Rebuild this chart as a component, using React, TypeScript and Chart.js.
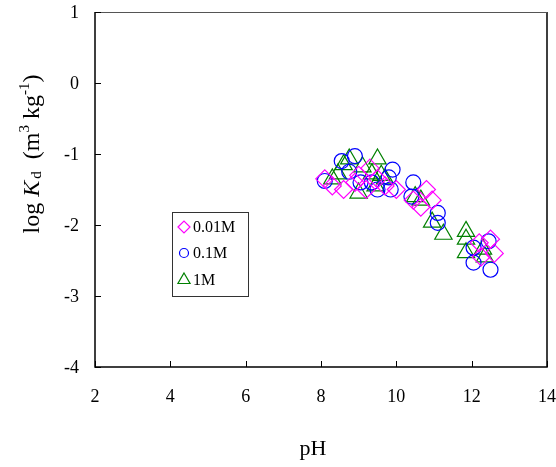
import React, { useEffect, useRef } from "react";
import { Chart, registerables } from "chart.js";

Chart.register(...registerables);

const seriesLabels = ["0.01M", "0.1M", "1M"];
const seriesColors = ["#ff00ff", "#0000ff", "#008000"];
const seriesStyles = ["rectRot", "circle", "triangle"];
const seriesRadii = [9, 7.5, 10];

const ph001 = [8.1, 8.3, 8.6, 8.9, 9.0, 9.2, 9.3, 9.5, 9.7, 10.0, 10.45, 10.65, 10.8, 10.95, 12.2, 12.25, 12.5, 12.6];
const logKd001 = [-1.35, -1.45, -1.5, -1.4, -1.3, -1.5, -1.2, -1.35, -1.45, -1.5, -1.65, -1.75, -1.5, -1.65, -2.25, -2.45, -2.2, -2.4];

const ph01 = [8.1, 8.55, 8.75, 8.9, 9.05, 9.35, 9.5, 9.8, 9.9, 9.85, 10.45, 10.4, 11.1, 11.1, 12.05, 12.05, 12.45, 12.5];
const logKd01 = [-1.38, -1.1, -1.25, -1.03, -1.4, -1.4, -1.5, -1.33, -1.22, -1.5, -1.4, -1.6, -1.83, -1.97, -2.32, -2.53, -2.23, -2.63];

const ph1 = [8.3, 8.45, 8.6, 8.75, 9.0, 9.1, 9.35, 9.45, 9.5, 9.6, 9.7, 10.5, 10.65, 10.95, 11.25, 11.85, 11.85, 11.85, 12.3, 12.35];
const logKd1 = [-1.35, -1.28, -1.15, -1.07, -1.55, -1.18, -1.28, -1.45, -1.07, -1.3, -1.35, -1.6, -1.65, -1.96, -2.13, -2.09, -2.2, -2.39, -2.34, -2.45];

const xTickValues = [2, 4, 6, 8, 10, 12, 14];
const yTickValues = [-4, -3, -2, -1, 0, 1];

const xTitle = "pH";
const yTitleParts = [
  { text: "log ", kind: "normal" },
  { text: "K", kind: "italic" },
  { text: "d", kind: "sub" },
  { text: "  (m", kind: "normal" },
  { text: "3", kind: "sup" },
  { text: " kg", kind: "normal" },
  { text: "-1", kind: "sup" },
  { text: ")", kind: "normal" },
];

const SERIF = "'Liberation Serif', 'DejaVu Serif', serif";

function toPoints(xs: number[], ys: number[]) {
  return xs.map((x, i) => ({ x, y: ys[i] }));
}

const framePlugin = {
  id: "frame",
  beforeDatasetsDraw(chart: any) {
    const { ctx, chartArea } = chart;
    const { left, right, top, bottom } = chartArea;
    const xs = chart.scales.x;
    const ys = chart.scales.y;
    ctx.save();
    ctx.strokeStyle = "#000";
    ctx.lineWidth = 1.5;
    ctx.beginPath();
    ctx.moveTo(left, top);
    ctx.lineTo(left, bottom);
    ctx.lineTo(right, bottom);
    ctx.lineTo(right, top);
    ctx.stroke();
    ctx.strokeStyle = "#555";
    ctx.lineWidth = 1;
    ctx.beginPath();
    ctx.moveTo(left, top + 0.5);
    ctx.lineTo(right, top + 0.5);
    ctx.stroke();
    ctx.strokeStyle = "#000";
    ctx.lineWidth = 1;
    ctx.beginPath();
    yTickValues.forEach((v) => {
      const py = Math.round(ys.getPixelForValue(v)) + 0.5;
      ctx.moveTo(left, py);
      ctx.lineTo(left + 6, py);
    });
    xTickValues.forEach((v) => {
      const px = Math.round(xs.getPixelForValue(v)) + 0.5;
      ctx.moveTo(px, bottom);
      ctx.lineTo(px, bottom - 6);
    });
    ctx.stroke();

    // tick labels
    ctx.fillStyle = "#000";
    ctx.font = `18px ${SERIF}`;
    ctx.textBaseline = "middle";
    ctx.textAlign = "right";
    yTickValues.forEach((v) => {
      ctx.fillText(String(v), left - 16, ys.getPixelForValue(v) + 1);
    });
    ctx.textAlign = "center";
    xTickValues.forEach((v) => {
      ctx.fillText(String(v), xs.getPixelForValue(v), bottom + 30);
    });
    ctx.restore();
  },
  afterDraw(chart: any) {
    const { ctx, chartArea } = chart;
    const { left, top } = chartArea;
    ctx.save();
    // x title
    ctx.fillStyle = "#000";
    ctx.font = `22px ${SERIF}`;
    ctx.textAlign = "center";
    ctx.textBaseline = "alphabetic";
    ctx.fillText(xTitle, 313, 455);

    // y title (rotated rich text)
    const fontFor = (kind: string) =>
      kind === "italic" ? `italic 24px ${SERIF}` : kind === "normal" ? `24px ${SERIF}` : `15px ${SERIF}`;
    const dyFor = (kind: string) => (kind === "sub" ? 2 : kind === "sup" ? -10 : 0);
    let total = 0;
    yTitleParts.forEach((p) => {
      ctx.font = fontFor(p.kind);
      total += ctx.measureText(p.text).width + (p.kind === "sub" ? 2 : 0);
    });
    ctx.translate(39, 154);
    ctx.rotate(-Math.PI / 2);
    ctx.textAlign = "left";
    let cx = -total / 2;
    yTitleParts.forEach((p) => {
      ctx.font = fontFor(p.kind);
      if (p.kind === "sub") cx += 2;
      ctx.fillText(p.text, cx, dyFor(p.kind));
      cx += ctx.measureText(p.text).width;
    });
    ctx.setTransform(1, 0, 0, 1, 0, 0);

    // legend
    const bx = left + 77;
    const by = top + 200;
    ctx.strokeStyle = "#333";
    ctx.lineWidth = 1;
    ctx.strokeRect(Math.round(bx) + 0.5, Math.round(by) + 0.5, 76, 84);
    const rowOffsets = [15, 41, 68];
    const legendRadii = [6, 4.5, 7];
    ctx.font = `16px ${SERIF}`;
    ctx.textBaseline = "middle";
    ctx.textAlign = "left";
    seriesLabels.forEach((label, i) => {
      const mx = bx + 12;
      const my = by + rowOffsets[i];
      ctx.strokeStyle = seriesColors[i];
      ctx.lineWidth = 1.2;
      ctx.beginPath();
      const r = legendRadii[i];
      if (seriesStyles[i] === "rectRot") {
        ctx.moveTo(mx - r, my);
        ctx.lineTo(mx, my - r);
        ctx.lineTo(mx + r, my);
        ctx.lineTo(mx, my + r);
        ctx.closePath();
      } else if (seriesStyles[i] === "circle") {
        ctx.arc(mx, my, r, 0, Math.PI * 2);
      } else {
        ctx.moveTo(mx, my - r);
        ctx.lineTo(mx + r * 0.866, my + r * 0.5);
        ctx.lineTo(mx - r * 0.866, my + r * 0.5);
        ctx.closePath();
      }
      ctx.stroke();
      ctx.fillStyle = "#000";
      ctx.fillText(label, bx + 21, my + 1);
    });
    ctx.restore();
  },
};

export default function App() {
  const canvasRef = useRef<HTMLCanvasElement | null>(null);

  useEffect(() => {
    if (!canvasRef.current) return;
    const seriesData = [toPoints(ph001, logKd001), toPoints(ph01, logKd01), toPoints(ph1, logKd1)];
    const chart = new Chart(canvasRef.current, {
      type: "scatter",
      data: {
        datasets: seriesLabels.map((label, i) => ({
          label,
          data: seriesData[i],
          pointStyle: seriesStyles[i] as any,
          pointRadius: seriesRadii[i],
          pointHoverRadius: seriesRadii[i],
          borderColor: seriesColors[i],
          backgroundColor: "rgba(0,0,0,0)",
          pointBorderWidth: 1.2,
          borderWidth: 1.2,
        })),
      },
      options: {
        animation: false,
        responsive: true,
        maintainAspectRatio: false,
        layout: { autoPadding: false, padding: { top: 12, right: 9, bottom: 0, left: 0 } },
        plugins: {
          legend: { display: false },
          tooltip: { enabled: false },
        },
        scales: {
          x: {
            type: "linear",
            min: 2,
            max: 14,
            ticks: { display: false, stepSize: 2 },
            grid: { display: false, drawTicks: false },
            border: { display: false },
            afterFit: (s: any) => {
              s.height = 100;
            },
          },
          y: {
            type: "linear",
            min: -4,
            max: 1,
            ticks: { display: false, stepSize: 1 },
            grid: { display: false, drawTicks: false },
            border: { display: false },
            afterFit: (s: any) => {
              s.width = 95;
            },
          },
        },
      },
      plugins: [framePlugin],
    });
    return () => chart.destroy();
  }, []);

  return (
    <div style={{ position: "absolute", left: 0, top: 0, width: 556, height: 467 }}>
      <canvas ref={canvasRef} />
    </div>
  );
}
